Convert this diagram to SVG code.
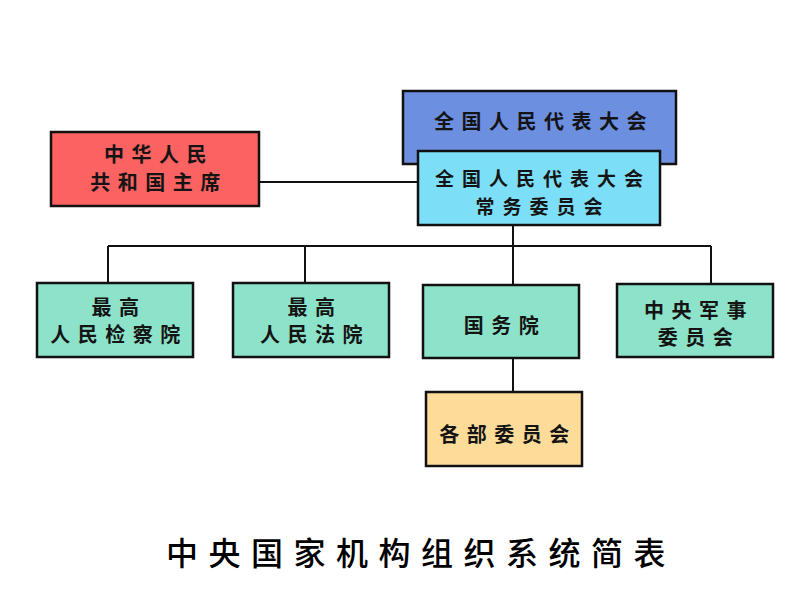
<svg xmlns="http://www.w3.org/2000/svg" width="800" height="600" viewBox="0 0 800 600">
<style>
.box{stroke:#111;stroke-width:2.5}
.t{font-family:"Noto Sans CJK SC","Noto Sans CJK JP",sans-serif;font-size:20px;font-weight:700;fill:#141414;text-anchor:middle;letter-spacing:7.5px}
.s{font-size:19px;letter-spacing:8px}
.title{font-family:"Noto Sans CJK SC","Noto Sans CJK JP",sans-serif;font-size:32px;font-weight:500;fill:#000;text-anchor:middle;letter-spacing:10.5px}
.c{stroke:#111;stroke-width:2;fill:none}
</style>
<rect width="800" height="600" fill="#fff"/>
<g id="connectors">
<line class="c" x1="259" y1="182" x2="418" y2="182"/>
<line class="c" x1="513" y1="225" x2="513" y2="246"/>
<line class="c" x1="108" y1="246" x2="711" y2="246"/>
<line class="c" x1="108" y1="246" x2="108" y2="283"/>
<line class="c" x1="305" y1="246" x2="305" y2="283"/>
<line class="c" x1="513" y1="246" x2="513" y2="285"/>
<line class="c" x1="711" y1="246" x2="711" y2="283"/>
<line class="c" x1="513" y1="358" x2="513" y2="391"/>
</g>
<g id="npc">
<rect class="box" x="403" y="91" width="273" height="73" fill="#6d8fe0"/>
<text class="t" x="544" y="129">全国人民代表大会</text>
</g>
<g id="npcsc">
<rect class="box" x="418" y="151" width="242" height="74" fill="#7ddff7"/>
<text class="t s" x="543" y="186">全国人民代表大会</text>
<text class="t s" x="543" y="214">常务委员会</text>
</g>
<g id="president">
<rect class="box" x="51" y="132" width="208" height="74" fill="#fb6262"/>
<text class="t" x="159" y="162">中华人民</text>
<text class="t" x="159" y="190">共和国主席</text>
</g>
<g id="procuratorate">
<rect class="box" x="37" y="283" width="156" height="74" fill="#8de3c9"/>
<text class="t" x="119" y="315">最高</text>
<text class="t" x="119" y="342">人民检察院</text>
</g>
<g id="court">
<rect class="box" x="233" y="283" width="156" height="74" fill="#8de3c9"/>
<text class="t" x="315" y="315">最高</text>
<text class="t" x="315" y="342">人民法院</text>
</g>
<g id="statecouncil">
<rect class="box" x="423" y="285" width="156" height="73" fill="#8de3c9"/>
<text class="t" x="505" y="333">国务院</text>
</g>
<g id="cmc">
<rect class="box" x="617" y="284" width="156" height="73" fill="#8de3c9"/>
<text class="t" x="699" y="318">中央军事</text>
<text class="t" x="699" y="345">委员会</text>
</g>
<g id="ministries">
<rect class="box" x="426" y="392" width="156" height="74" fill="#fddc9a"/>
<text class="t" x="508" y="442">各部委员会</text>
</g>
<text class="title" x="421" y="565">中央国家机构组织系统简表</text>
</svg>
